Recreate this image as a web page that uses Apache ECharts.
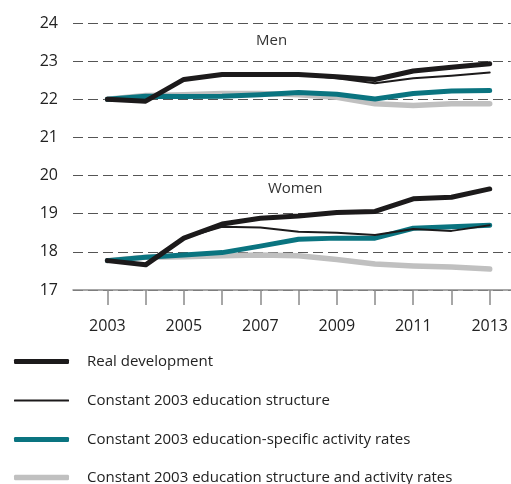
<!DOCTYPE html>
<html>
<head>
<meta charset="utf-8">
<script src="https://cdn.jsdelivr.net/npm/echarts@6/dist/echarts.min.js"></script>
<style>
html, body { margin: 0; padding: 0; background: #fff; }
#container { width: 511px; height: 484px; }
</style>
</head>
<body>
<div id="container"></div>
<script>
var years = [2003, 2004, 2005, 2006, 2007, 2008, 2009, 2010, 2011, 2012, 2013];
var yearLabels = [2003, 2005, 2007, 2009, 2011, 2013];
var seriesNames = [
	'Real development',
	'Constant 2003 education structure',
	'Constant 2003 education-specific activity rates',
	'Constant 2003 education structure and activity rates'
];

// men
var menReal = [22.0, 21.95, 22.52, 22.65, 22.65, 22.65, 22.59, 22.52, 22.74, 22.84, 22.93];
var menEduc = [22.0, 21.95, 22.52, 22.65, 22.65, 22.65, 22.55, 22.42, 22.55, 22.62, 22.70];
var menRates = [22.0, 22.08, 22.07, 22.08, 22.12, 22.18, 22.13, 22.01, 22.15, 22.22, 22.23];
var menBoth = [22.0, 22.1, 22.12, 22.15, 22.15, 22.12, 22.05, 21.88, 21.84, 21.88, 21.88];

// women
var womenReal = [17.77, 17.66, 18.36, 18.73, 18.88, 18.94, 19.03, 19.06, 19.39, 19.43, 19.65];
var womenEduc = [17.77, 17.66, 18.36, 18.66, 18.64, 18.53, 18.5, 18.44, 18.6, 18.55, 18.7];
var womenRates = [17.77, 17.86, 17.92, 17.98, 18.15, 18.33, 18.36, 18.36, 18.62, 18.66, 18.7];
var womenBoth = [17.77, 17.86, 17.87, 17.9, 17.92, 17.9, 17.8, 17.68, 17.63, 17.6, 17.55];

var colors = ['#1c1a1b', '#1c1a1b', '#0a7480', '#c0c0c0'];
var widths = [5, 2, 5, 5.5];
var legendTops = [354, 393, 432, 470];
var font = '"Open Sans", "Noto Sans", sans-serif';

function pairs(vals) {
	var out = [];
	for (var i = 0; i < years.length; i++) {
		out.push([years[i], vals[i]]);
	}
	return out;
}

function makeLine(idx, vals, z) {
	return {
		name: seriesNames[idx],
		type: 'line',
		data: pairs(vals),
		symbol: 'none',
		z: z,
		lineStyle: {color: colors[idx], width: widths[idx], cap: 'round', join: 'round'},
		itemStyle: {color: colors[idx]},
		animation: false
	};
}

// one legend per item so each swatch can have its own thickness
function makeLegend(idx) {
	return {
		orient: 'vertical',
		left: 14,
		top: legendTops[idx],
		padding: 0,
		icon: 'roundRect',
		itemWidth: 55,
		itemHeight: widths[idx],
		selectedMode: false,
		textStyle: {fontSize: 15, color: '#222', fontFamily: font, padding: [0, 0, 0, 13]},
		data: [seriesNames[idx]]
	};
}

var myChart = echarts.init(document.getElementById('container'));

myChart.setOption({
	backgroundColor: '#FFFFFF',
	animation: false,
	textStyle: {fontFamily: font},
	grid: {left: 73, right: 0, top: 23, bottom: 194},
	graphic: [
		{type: 'text', left: 256, top: 33, style: {text: 'Men', fontSize: 15, fontFamily: font, fill: '#333'}},
		{type: 'text', left: 268, top: 181, style: {text: 'Women', fontSize: 15, fontFamily: font, fill: '#333'}}
	],
	legend: [makeLegend(0), makeLegend(1), makeLegend(2), makeLegend(3)],
	xAxis: {
		type: 'value',
		min: 2002.1,
		max: 2013.55,
		axisLine: {show: true, lineStyle: {color: '#8a8a8a', width: 1.5}},
		axisTick: {show: true, length: 15, customValues: years, lineStyle: {color: '#8a8a8a', width: 1.5}},
		axisLabel: {
			customValues: yearLabels,
			fontSize: 16,
			color: '#222',
			margin: 28,
			fontFamily: font,
			formatter: function (value) { return String(Math.round(value)); }
		},
		splitLine: {show: false}
	},
	yAxis: {
		type: 'value',
		min: 17,
		max: 24,
		interval: 1,
		axisLine: {show: false},
		axisTick: {show: false},
		axisLabel: {fontSize: 16, color: '#222', margin: 15, fontFamily: font},
		splitLine: {show: true, lineStyle: {color: '#555', width: 1, type: [10, 5]}}
	},
	series: [
		makeLine(3, menBoth, 2),
		makeLine(2, menRates, 3),
		makeLine(1, menEduc, 4),
		makeLine(0, menReal, 5),
		makeLine(3, womenBoth, 2),
		makeLine(2, womenRates, 3),
		makeLine(1, womenEduc, 4),
		makeLine(0, womenReal, 5)
	]
});
</script>
</body>
</html>
